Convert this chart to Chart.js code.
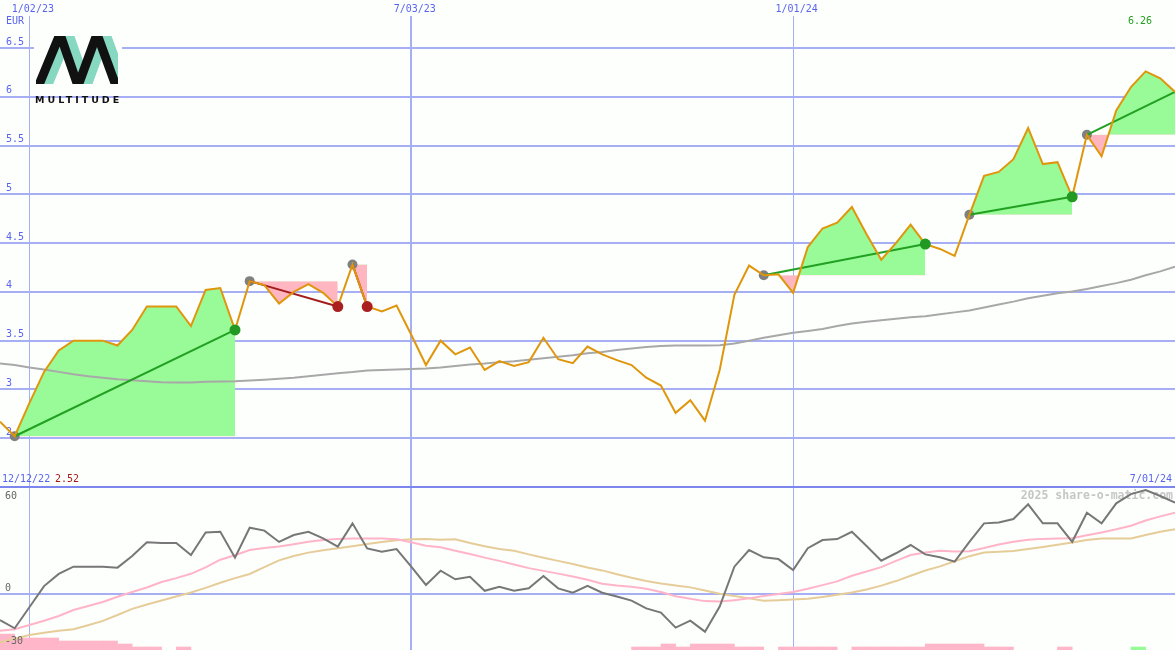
<!DOCTYPE html>
<html>
<head>
<meta charset="utf-8">
<script src="https://cdn.jsdelivr.net/npm/chart.js@4.4.1/dist/chart.umd.min.js"></script>
<style>
  html, body { margin: 0; padding: 0; background: #fdfffd; }
  #wrap { position: relative; width: 1175px; height: 650px; overflow: hidden; }
  #top { position: absolute; left: 0; top: 0; }
  #bottom { position: absolute; left: 0; top: 484px; }
</style>
</head>
<body>
<div id="wrap">
  <canvas id="top" width="1175" height="489"></canvas>
  <canvas id="bottom" width="1175" height="166"></canvas>
</div>
<script>
// ---- data (weekly, index 0 = 12/19/22 ... 80 = 7/01/24) ----
const price = [
  2.67, 2.52, 2.86, 3.18, 3.40, 3.50, 3.50, 3.50, 3.45, 3.61,
  3.85, 3.85, 3.85, 3.65, 4.02, 4.04, 3.61, 4.11, 4.07, 3.88,
  4.00, 4.08, 3.99, 3.85, 4.28, 3.85, 3.80, 3.86, 3.56, 3.25,
  3.50, 3.36, 3.43, 3.20, 3.29, 3.24, 3.28, 3.53, 3.31, 3.27,
  3.44, 3.36, 3.30, 3.25, 3.12, 3.04, 2.76, 2.89, 2.68, 3.20,
  3.97, 4.27, 4.17, 4.18, 3.99, 4.46, 4.65, 4.71, 4.87, 4.59,
  4.33, 4.50, 4.69, 4.49, 4.44, 4.37, 4.79, 5.19, 5.23, 5.36,
  5.68, 5.31, 5.33, 4.975, 5.61, 5.39, 5.86, 6.10, 6.26, 6.19,
  6.05
];
const avg40 = [
  3.266, 3.25, 3.225, 3.205, 3.18, 3.155, 3.136, 3.12, 3.105, 3.095,
  3.085, 3.075, 3.072, 3.072, 3.078, 3.082, 3.085, 3.092, 3.10, 3.11,
  3.12, 3.135, 3.15, 3.165, 3.178, 3.195, 3.20, 3.205, 3.21, 3.215,
  3.225, 3.24, 3.255, 3.265, 3.28, 3.29, 3.305, 3.32, 3.335, 3.35,
  3.37, 3.385, 3.405, 3.42, 3.435, 3.445, 3.45, 3.45, 3.45, 3.452,
  3.47, 3.50, 3.53, 3.555, 3.58, 3.60, 3.62, 3.65, 3.675, 3.695,
  3.71, 3.725, 3.74, 3.75, 3.77, 3.79, 3.81, 3.84, 3.87, 3.90,
  3.935, 3.96, 3.985, 4.005, 4.03, 4.06, 4.09, 4.125, 4.17, 4.21,
  4.257
];
const osc = [
  -16.1, -21.2, -8.2, 4.9, 12.4, 16.9, 16.9, 16.9, 16.3, 23.5,
  32.0, 31.6, 31.6, 24.1, 38.1, 38.5, 22.5, 41.0, 39.2, 32.2,
  36.5, 38.5, 34.4, 29.3, 43.7, 28.2, 26.2, 27.8, 16.9, 5.6,
  14.4, 9.1, 10.7, 2.0, 4.5, 2.0, 3.5, 11.1, 3.5, 0.8,
  5.1, 0.8, -1.6, -4.1, -8.9, -11.5, -20.8, -16.5, -23.3, -7.8,
  16.9, 27.2, 22.7, 21.6, 14.8, 28.3, 33.4, 34.0, 38.5, 29.7,
  20.6, 25.2, 30.3, 24.5, 22.7, 20.0, 32.3, 43.7, 44.3, 46.4,
  55.5, 43.7, 43.7, 32.3, 50.3, 43.7, 56.1, 61.8, 64.3, 60.6,
  56.5
];
const oscFast = [
  -22.7, -21.8, -19.2, -16.5, -13.6, -9.9, -7.4, -4.9, -1.7, 1.2,
  4.0, 7.4, 9.8, 12.5, 16.5, 21.2, 24.0, 27.2, 28.4, 29.4,
  30.8, 32.3, 33.4, 34.1, 34.4, 34.4, 34.4, 33.8, 32.0, 29.8,
  28.9, 26.8, 24.8, 22.5, 20.5, 18.3, 16.0, 14.3, 12.6, 10.8,
  8.8, 6.4, 5.2, 4.5, 3.3, 1.2, -1.4, -3.0, -4.4, -4.7,
  -3.8, -2.7, -1.2, 0.0, 1.2, 3.2, 5.5, 7.8, 11.3, 13.9,
  16.6, 20.5, 24.1, 25.7, 26.8, 26.3, 26.5, 28.4, 30.6, 32.3,
  33.5, 34.1, 34.3, 34.5, 36.3, 38.1, 40.0, 42.2, 45.5, 48.0,
  50.3
];
const oscSlow = [
  -29.9, -27.7, -25.4, -24.0, -22.8, -21.8, -19.3, -16.6, -13.0, -9.2,
  -6.5, -4.0, -1.5, 0.9, 3.8, 7.0, 9.8, 12.4, 16.6, 20.8,
  23.5, 25.6, 27.0, 28.3, 29.6, 31.0, 32.2, 33.3, 33.9, 34.0,
  33.5, 33.9, 31.5, 29.6, 27.8, 26.8, 24.5, 22.4, 20.5, 18.5,
  16.4, 14.6, 12.2, 10.0, 8.1, 6.5, 5.2, 4.1, 2.2, 0.1,
  -1.3, -2.7, -4.1, -3.8, -3.4, -3.0, -1.8, -0.4, 0.9, 2.8,
  5.2, 8.0, 11.3, 14.5, 17.1, 20.3, 23.4, 25.6, 26.1, 26.6,
  27.8, 29.1, 30.5, 31.8, 33.4, 34.4, 34.4, 34.4, 36.5, 38.5,
  40.0
];
// small histogram at the foot of the lower panel (one block per week)
const barsLoss = [
  5.3, 4, 4, 4, 3, 3, 3, 3, 2, 1,
  1, 0, 1, 0, 0, 0, 0, 0, 0, 0,
  0, 0, 0, 0, 0, 0, 0, 0, 0, 0,
  0, 0, 0, 0, 0, 0, 0, 0, 0, 0,
  0, 0, 0, 1, 1, 2, 1, 2, 2, 2,
  1, 1, 0, 1, 1, 1, 1, 0, 1, 1,
  1, 1, 1, 2, 2, 2, 2, 1, 1, 0,
  0, 0, 1, 0, 0, 0, 0, 0, 0, 0,
  0
];
const barsGain = [
  0, 0, 0, 0, 0, 0, 0, 0, 0, 0,
  0, 0, 0, 0, 0, 0, 0, 0, 0, 0,
  0, 0, 0, 0, 0, 0, 0, 0, 0, 0,
  0, 0, 0, 0, 0, 0, 0, 0, 0, 0,
  0, 0, 0, 0, 0, 0, 0, 0, 0, 0,
  0, 0, 0, 0, 0, 0, 0, 0, 0, 0,
  0, 0, 0, 0, 0, 0, 0, 0, 0, 0,
  0, 0, 0, 0, 0, 0, 0, 1, 0, 0,
  0
];
// trades: entry week, exit week (last one still open)
const tradeIn  = [1, 17, 24, 52, 66, 74];
const tradeOut = [16, 23, 25, 63, 73, 80];
const tradeOpen = [false, false, false, false, false, true];

const dateTicks  = [2, 28, 54];
const dateLabels = ['1/02/23', '7/03/23', '1/01/24'];
const priceTicks = [2.5, 3, 3.5, 4, 4.5, 5, 5.5, 6, 6.5];
const oscTicks   = [60, 0, -30];
const firstDate = '12/12/22';
const lastDate  = '7/01/24';

// ---- look ----
const BG = '#fdfffd';
const BLUE = '#5a64ee';
const GRID = '#a6aef4';
const SEP = '#7c86ee';
const ORANGE = '#e0960c';
const GAIN = '#98fb98';
const LOSS = '#ffb6c1';
const MONO = '"DejaVu Sans Mono", monospace';

const pts = (arr, a = 0, b = arr.length - 1) =>
  arr.slice(a, b + 1).map((v, k) => ({ x: a + k, y: v }));
const barPts = arr =>
  arr.map((v, i) => ({ x: i + 0.5, y: v })).filter(p => p.y > 0);
const noPad = s => { s.paddingTop = 0; s.paddingBottom = 0; s.paddingLeft = 0; s.paddingRight = 0; };

// ---- upper panel datasets ----
const entries = tradeIn.map(i => ({ x: i, y: price[i] }));
const exits = [], exitColors = [];
tradeOut.forEach((o, k) => {
  if (tradeOpen[k]) return;
  exits.push({ x: o, y: price[o] });
  exitColors.push(price[o] > price[tradeIn[k]] ? '#229922' : '#aa2020');
});

const topSets = [];
topSets.push({ data: exits, showLine: false, pointRadius: 5.5, pointBorderWidth: 0,
  pointBackgroundColor: exitColors, order: 0 });
topSets.push({ data: pts(price), borderColor: ORANGE, borderWidth: 2, pointRadius: 0, order: 1 });
tradeIn.forEach((a, k) => {
  const b = tradeOut[k];
  const win = price[b] > price[a];
  topSets.push({ data: [{ x: a, y: price[a] }, { x: b, y: price[b] }],
    borderColor: win ? '#22a022' : '#a51c1c', borderWidth: 2, pointRadius: 0, order: 2 });
  topSets.push({ data: pts(price, a, b), borderColor: 'rgba(0,0,0,0)', borderWidth: 0, pointRadius: 0,
    fill: { target: { value: price[a] }, above: GAIN, below: LOSS }, order: 5 });
});
topSets.push({ data: entries, showLine: false, pointRadius: 5, pointBorderWidth: 0,
  pointBackgroundColor: '#808080', order: 3 });
topSets.push({ data: pts(avg40), borderColor: '#a8a8a8', borderWidth: 2, pointRadius: 0, order: 4 });

function drawLogo(ctx) {
  ctx.save();
  ctx.fillStyle = BG;
  ctx.fillRect(34, 33, 88, 61);
  ctx.beginPath();
  ctx.rect(36, 36, 82, 48);
  ctx.clip();
  ctx.lineWidth = 9;
  ctx.lineJoin = 'miter';
  const zig = [[36, 92], [60, 34], [78, 86], [97, 34], [116, 86]];
  [['#86d8c0', 9], ['#111111', 0]].forEach(([col, dx]) => {
    ctx.strokeStyle = col;
    ctx.beginPath();
    zig.forEach(([x, y], k) => k ? ctx.lineTo(x + dx, y) : ctx.moveTo(x + dx, y));
    ctx.stroke();
  });
  ctx.restore();
  ctx.save();
  ctx.fillStyle = '#111111';
  ctx.font = 'bold 9.5px "DejaVu Sans"';
  ctx.letterSpacing = '3px';
  ctx.textBaseline = 'middle';
  ctx.fillText('MULTITUDE', 35, 101);
  ctx.restore();
}

const topText = {
  id: 'topText',
  afterDraw(chart) {
    const ctx = chart.ctx;
    ctx.save();
    ctx.font = '10px ' + MONO;
    ctx.textBaseline = 'middle';
    ctx.textAlign = 'left';
    ctx.fillStyle = BLUE;
    ctx.fillText('EUR', 6, 21.5);
    ctx.fillText(firstDate, 2, 479);
    ctx.fillStyle = '#a51c1c';
    ctx.fillText(Math.min(...price).toFixed(2), 55, 479);
    ctx.fillStyle = '#22a022';
    ctx.textAlign = 'center';
    ctx.fillText(Math.max(...price).toFixed(2), 1140, 21.5);
    ctx.fillStyle = BLUE;
    ctx.textAlign = 'right';
    ctx.fillText(lastDate, 1172, 479);
    ctx.restore();
    drawLogo(ctx);
  }
};

new Chart(document.getElementById('top'), {
  type: 'line',
  data: { datasets: topSets },
  options: {
    responsive: false,
    animation: false,
    layout: { autoPadding: false, padding: { left: 0, right: 0, top: 0, bottom: 2 } },
    plugins: { legend: { display: false }, tooltip: { enabled: false } },
    scales: {
      x: {
        type: 'linear', min: 0, max: 80, position: 'top', offset: false,
        afterBuildTicks: s => { s.ticks = dateTicks.map(v => ({ value: v })); },
        afterFit: s => { s.height = 16; noPad(s); },
        ticks: {
          autoSkip: false, maxRotation: 0, padding: 1, labelOffset: 3.5,
          color: BLUE, font: { family: MONO, size: 10 },
          callback: v => dateLabels[dateTicks.indexOf(v)]
        },
        grid: { color: GRID, drawTicks: false, offset: false,
          lineWidth: c => (c.tick && c.tick.value === 28 ? 2 : 1) },
        border: { display: false }
      },
      y: {
        min: 2.0, max: 6.828,
        afterBuildTicks: s => { s.ticks = priceTicks.map(v => ({ value: v })); },
        afterFit: s => { s.width = 0; noPad(s); },
        ticks: { mirror: true, padding: 6, labelOffset: -6, color: BLUE,
          font: { family: MONO, size: 10 }, callback: v => String(v) },
        grid: { color: GRID, lineWidth: 2, drawTicks: false },
        border: { display: false }
      }
    }
  },
  plugins: [topText]
});

// ---- lower panel ----
const bottomText = {
  id: 'bottomText',
  beforeDatasetsDraw(chart) {
    const { ctx, chartArea } = chart;
    ctx.save();
    ctx.textBaseline = 'middle';
    ctx.font = 'bold 11.5px ' + MONO;
    ctx.fillStyle = '#c6c6c6';
    ctx.textAlign = 'right';
    ctx.fillText('2025 share-o-matic.com', 1173, chartArea.top + 9);
    ctx.restore();
  },
  afterDraw(chart) {
    const { ctx, scales } = chart;
    ctx.save();
    ctx.textBaseline = 'middle';
    ctx.font = '10px ' + MONO;
    ctx.fillStyle = '#666666';
    ctx.textAlign = 'left';
    oscTicks.forEach(v => {
      ctx.fillText(String(v), 5, scales.y.getPixelForValue(v) + (v === 0 ? -6 : -1));
    });
    ctx.restore();
  }
};

const barStyle = { type: 'bar', yAxisID: 'yb', grouped: false, barPercentage: 1,
  categoryPercentage: 1, borderWidth: 0, order: 3 };

new Chart(document.getElementById('bottom'), {
  type: 'line',
  data: {
    datasets: [
      { data: pts(osc), borderColor: '#777777', borderWidth: 2, pointRadius: 0, order: 0 },
      { data: pts(oscFast), borderColor: '#ffb4c8', borderWidth: 2, pointRadius: 0, order: 1 },
      { data: pts(oscSlow), borderColor: '#e6cc98', borderWidth: 2, pointRadius: 0, order: 2 },
      Object.assign({ data: barPts(barsLoss), backgroundColor: '#ffb6c8' }, barStyle),
      Object.assign({ data: barPts(barsGain), backgroundColor: GAIN }, barStyle)
    ]
  },
  options: {
    responsive: false,
    animation: false,
    layout: { autoPadding: false, padding: { left: 0, right: 0, top: 3, bottom: 0 } },
    plugins: { legend: { display: false }, tooltip: { enabled: false } },
    scales: {
      x: {
        type: 'linear', min: 0, max: 80, position: 'top', offset: false,
        afterBuildTicks: s => { s.ticks = dateTicks.map(v => ({ value: v })); },
        afterFit: s => { s.height = 0; noPad(s); },
        ticks: { display: false },
        grid: { color: GRID, drawTicks: false, offset: false,
          lineWidth: c => (c.tick && c.tick.value === 28 ? 2 : 1) },
        border: { display: true, color: SEP, width: 2 }
      },
      y: {
        min: -34.64, max: 66.19,
        afterBuildTicks: s => { s.ticks = oscTicks.map(v => ({ value: v })); },
        afterFit: s => { s.width = 0; noPad(s); },
        ticks: { display: false },
        grid: { drawTicks: false, lineWidth: 2,
          color: c => (c.tick && c.tick.value === 0 ? GRID : 'rgba(0,0,0,0)') },
        border: { display: false }
      },
      yb: { min: 0, max: 54.33, display: false }
    }
  },
  plugins: [bottomText]
});
</script>
</body>
</html>
